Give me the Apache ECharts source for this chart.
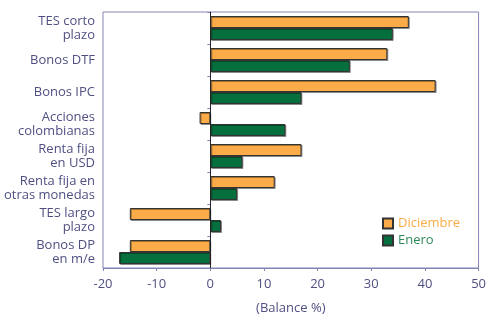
<!DOCTYPE html>
<html>
<head>
<meta charset="utf-8">
<script src="https://cdn.jsdelivr.net/npm/echarts@6/dist/echarts.min.js"></script>
<style>
  html, body { margin: 0; padding: 0; background: #fff; }
  #chart { width: 489px; height: 320px; }
</style>
</head>
<body>
<div id="chart"></div>
<script>
// categories, top to bottom
var categorias = ['TES corto\nplazo', 'Bonos DTF', 'Bonos IPC', 'Acciones\ncolombianas',
    'Renta fija\nen USD', 'Renta fija en\notras monedas', 'TES largo\nplazo', 'Bonos DP\nen m/e'];
var diciembre = [37, 33, 42, -2, 17, 12, -15, -15];
var enero = [34, 26, 17, 14, 6, 5, 2, -17];
var xTicks = [-20, 50, 10];   // min, max, interval

var axisColor = '#8585b5';
var textColor = '#4e5082';
var naranja = '#fbab47';
var verde = '#05703e';

var chart = echarts.init(document.getElementById('chart'));

var barStyle = function (c) {
    return {
        color: c,
        borderColor: '#333',
        borderWidth: 1,
        shadowColor: 'rgba(0,0,0,0.35)',
        shadowOffsetX: 1,
        shadowOffsetY: 1,
        shadowBlur: 0
    };
};

var option = {
    animation: false,
    textStyle: { fontFamily: 'Open Sans' },
    grid: { left: 103, right: 8, top: 12, bottom: 44, show: true, borderColor: axisColor, borderWidth: 1 },
    legend: {
        orient: 'vertical',
        left: 377, top: 212,
        itemWidth: 10, itemHeight: 10, itemGap: 4,
        icon: 'rect',
        data: [
            { name: 'Diciembre', textStyle: { color: naranja } },
            { name: 'Enero', textStyle: { color: '#2f8a5a' } }
        ],
        textStyle: { fontSize: 13, fontFamily: 'Open Sans' }
    },
    xAxis: {
        type: 'value',
        min: xTicks[0], max: xTicks[1], interval: xTicks[2],
        name: '(Balance %)',
        nameLocation: 'middle',
        nameGap: 34,
        nameTextStyle: { color: textColor, fontSize: 13 },
        axisLine: { show: true, lineStyle: { color: axisColor } },
        axisTick: { show: true, length: 3, lineStyle: { color: axisColor } },
        axisLabel: { color: textColor, fontSize: 13, margin: 10 },
        splitLine: { show: false }
    },
    yAxis: {
        type: 'category',
        inverse: true,
        data: categorias,
        axisLine: { show: true, lineStyle: { color: axisColor } },
        axisTick: { show: true, length: 3, lineStyle: { color: axisColor } },
        axisLabel: { color: textColor, fontSize: 13, lineHeight: 14, margin: 8 }
    },
    series: [
        {
            name: 'Diciembre', type: 'bar', data: diciembre,
            barWidth: 12, barGap: '0%',
            itemStyle: barStyle(naranja),
            markLine: {
                silent: true, symbol: 'none', label: { show: false },
                lineStyle: { color: '#222', width: 1, type: 'solid' },
                data: [{ xAxis: 0 }]
            }
        },
        {
            name: 'Enero', type: 'bar', data: enero,
            barWidth: 12, barGap: '0%',
            itemStyle: barStyle(verde)
        }
    ]
};
chart.setOption(option);
window.onresize = chart.resize;
</script>
</body>
</html>
